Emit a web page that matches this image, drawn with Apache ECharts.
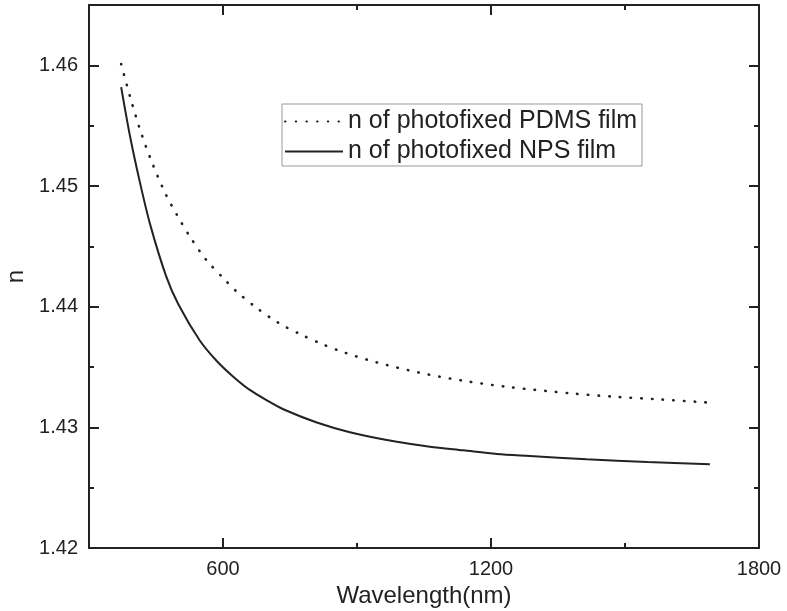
<!DOCTYPE html>
<html>
<head>
<meta charset="utf-8">
<script src="https://cdn.jsdelivr.net/npm/echarts@6/dist/echarts.min.js"></script>
<style>
html,body{margin:0;padding:0;background:#fff;}
#chart{width:787px;height:611px;}
</style>
</head>
<body>
<div id="chart"></div>
<script>
// ---- data ----
const seriesNames = ['n of photofixed PDMS film', 'n of photofixed NPS film'];

// PDMS (dotted) : wavelength (nm), refractive index
const pdmsWavelength = [372, 392, 414, 440, 472, 497, 526, 562, 605, 629, 677, 724, 774, 822, 872, 944, 1041, 1138, 1235, 1381, 1479, 1576, 1672, 1685];
const pdmsN = [1.4601, 1.4574, 1.4547, 1.45205, 1.4493, 1.4476, 1.4458, 1.4439, 1.4422, 1.4413, 1.43985, 1.43866, 1.4377, 1.4369, 1.4362, 1.43538, 1.43452, 1.43386, 1.43336, 1.43281, 1.43253, 1.43232, 1.43209, 1.43206];

// NPS (solid)
const npsWavelength = [372, 392, 414, 437, 472, 500, 548, 586, 623, 660, 700, 735, 810, 884, 989, 1063, 1138, 1213, 1287, 1414, 1550, 1690];
const npsN = [1.4582, 1.4541, 1.4503, 1.4468, 1.4426, 1.4402, 1.4372, 1.4355, 1.4342, 1.4331, 1.4322, 1.4315, 1.4304, 1.4296, 1.4288, 1.4284, 1.4281, 1.4278, 1.42763, 1.42735, 1.42712, 1.42695];

// axes
const xMin = 300, xMax = 1800;
const xMajorTicks = [600, 1200, 1800];
const xMinorTicks = [900, 1500];
const yMin = 1.42, yMax = 1.465;
const yMajorTicks = [1.42, 1.43, 1.44, 1.45, 1.46];
const yMinorTicks = [1.425, 1.435, 1.445, 1.455];
const xTitle = 'Wavelength(nm)';
const yTitle = 'n';

// ---- chart ----
const INK = '#222';
const FONT = 'Liberation Sans, Arial, Helvetica, sans-serif';

function pair(xs, ys) { return xs.map((x, i) => [x, ys[i]]); }

function xAx(pos, ticks, len, opts) {
  return Object.assign({
    type: 'value', position: pos, min: xMin, max: xMax,
    axisLine: { show: true, onZero: false, lineStyle: { color: INK, width: 2 } },
    axisTick: { show: true, inside: true, length: len, customValues: ticks, lineStyle: { color: INK, width: 2 } },
    axisLabel: { show: false },
    splitLine: { show: false }
  }, opts || {});
}
function yAx(pos, ticks, len, opts) {
  return Object.assign({
    type: 'value', position: pos, min: yMin, max: yMax,
    axisLine: { show: true, onZero: false, lineStyle: { color: INK, width: 2 } },
    axisTick: { show: true, inside: true, length: len, customValues: ticks, lineStyle: { color: INK, width: 2 } },
    axisLabel: { show: false },
    splitLine: { show: false }
  }, opts || {});
}

const chart = echarts.init(document.getElementById('chart'), null, { renderer: 'canvas' });
chart.setOption({
  backgroundColor: '#fff',
  animation: false,
  grid: { left: 89, right: 28, top: 5, bottom: 63, containLabel: false, outerBoundsMode: 'none' },
  legend: {
    orient: 'vertical',
    left: 282, top: 104,
    padding: [5, 5, 2, 2],
    itemGap: 5,
    itemWidth: 58, itemHeight: 14,
    borderColor: '#999', borderWidth: 1,
    itemStyle: { opacity: 0 },
    textStyle: { fontFamily: FONT, fontSize: 25, color: INK, padding: [0, 0, 0, 0] },
    data: seriesNames
  },
  xAxis: [
    xAx('bottom', xMajorTicks, 10, {
      name: xTitle, nameLocation: 'middle', nameGap: 29,
      nameTextStyle: { fontFamily: FONT, fontSize: 24, color: INK },
      axisLabel: { show: true, customValues: xMajorTicks, margin: 11, fontFamily: FONT, fontSize: 20, color: INK,
        formatter: v => String(v) }
    }),
    xAx('bottom', xMinorTicks, 5, { axisLine: { show: false } }),
    xAx('top', xMajorTicks, 10),
    xAx('top', xMinorTicks, 5, { axisLine: { show: false } })
  ],
  yAxis: [
    yAx('left', yMajorTicks, 10, {
      name: yTitle, nameLocation: 'middle', nameGap: 51, nameRotate: 90,
      nameTextStyle: { fontFamily: FONT, fontSize: 24, color: INK },
      axisLabel: { show: true, customValues: yMajorTicks, margin: 11, fontFamily: FONT, fontSize: 20, color: INK,
        formatter: v => v.toFixed(2) }
    }),
    yAx('left', yMinorTicks, 5, { axisLine: { show: false } }),
    yAx('right', yMajorTicks, 10),
    yAx('right', yMinorTicks, 5, { axisLine: { show: false } })
  ],
  series: [
    {
      name: seriesNames[0], type: 'line', xAxisIndex: 0, yAxisIndex: 0,
      data: pair(pdmsWavelength, pdmsN), smooth: 0.3, showSymbol: false, symbol: 'none',
      lineStyle: { color: INK, width: 2.6, type: [0.5, 10.2], cap: 'round' },
      itemStyle: { color: INK }
    },
    {
      name: seriesNames[1], type: 'line', xAxisIndex: 0, yAxisIndex: 0,
      data: pair(npsWavelength, npsN), smooth: 0.3, showSymbol: false, symbol: 'none',
      lineStyle: { color: INK, width: 2 },
      itemStyle: { color: INK }
    }
  ]
});
</script>
</body>
</html>
